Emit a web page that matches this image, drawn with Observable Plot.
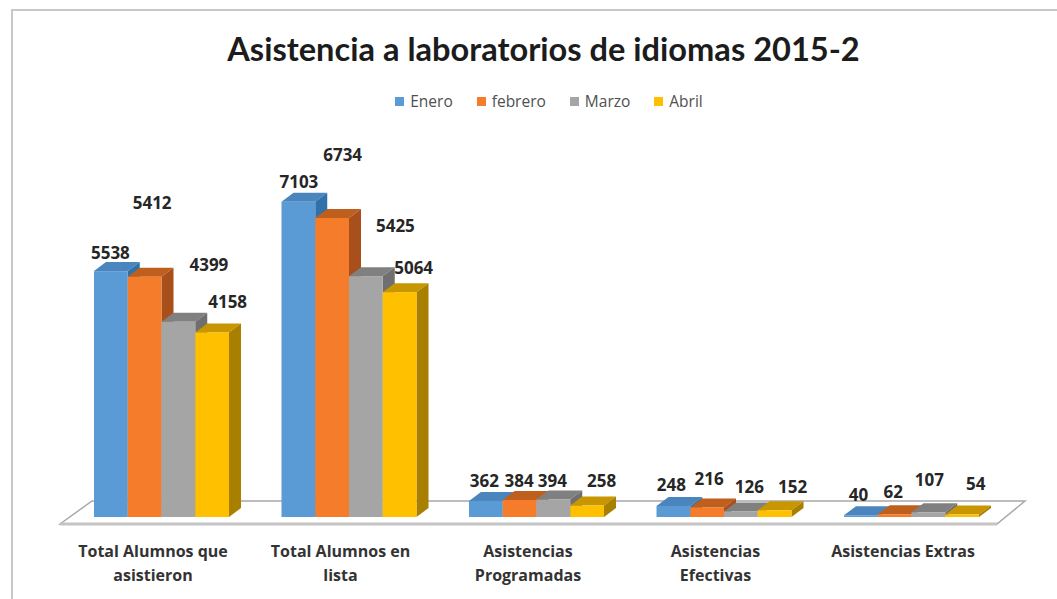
<!DOCTYPE html>
<html>
<head>
<meta charset="utf-8">
<script src="https://cdn.jsdelivr.net/npm/d3@7"></script>
<script src="https://cdn.jsdelivr.net/npm/@observablehq/plot@0.6"></script>
<style>
  html, body { margin: 0; padding: 0; background: #fff; }
  #frame { position: relative; width: 1057px; height: 599px; overflow: hidden; font-family: Lato, sans-serif; }
  #frame::before { content: ""; position: absolute; left: 11px; top: 9px; right: -4px; bottom: -4px; border: 2px solid #c8c8c8; pointer-events: none; }
  #head { height: 125px; box-sizing: border-box; padding-top: 27px; text-align: center; }
  #title { font-size: 32.6px; font-weight: 700; color: #1c1c1c; line-height: 44px; margin-left: 30px; }
  #legend { display: flex; justify-content: center; gap: 24px; font-family: "Open Sans", sans-serif; font-size: 15.5px; color: #505050; margin-top: 20px; margin-left: 41px; line-height: 20px; }
  #legend span { display: inline-flex; align-items: center; }
  #legend i { display: inline-block; width: 9px; height: 9px; margin-right: 6px; }
  svg { display: block; }
</style>
</head>
<body>
<div id="frame">
  <div id="head">
    <div id="title"></div>
    <div id="legend"></div>
  </div>
  <div id="chart"></div>
</div>
<script>
const titleText = "Asistencia a laboratorios de idiomas 2015-2";
const categories = ["Total Alumnos que\nasistieron", "Total Alumnos en\nlista", "Asistencias\nProgramadas", "Asistencias\nEfectivas", "Asistencias Extras"];
const months = ["Enero", "febrero", "Marzo", "Abril"];
const enero = [5538, 7103, 362, 248, 40];
const febrero = [5412, 6734, 384, 216, 62];
const marzo = [4399, 5425, 394, 126, 107];
const abril = [4158, 5064, 258, 152, 54];
const frontColors = ["#5b9bd5", "#f47c2a", "#a5a5a5", "#ffc000"];
const topColors = ["#4a86bd", "#bf5f1e", "#808080", "#c79600"];
const sideColors = ["#2f72a8", "#a84f1c", "#6f6f6f", "#a97f00"];
const labelDx = [[-1, 7, 30, 15], [0, 10, 29, 13.5], [-2, -1, -1.5, 14], [-2.5, 1.5, 8, 17.5], [-3, -2, 0.5, 13]];
const labelDy = [[-18, -74, -57, -30], [-20, -63, -50, -24], [-20, -19, -18.5, -24.5], [-21, -28, -24, -23], [-20, -22, -32, -30.6]];

const depthX = 12, depthY = 9;
const series = [enero, febrero, marzo, abril];
const rows = [];
categories.forEach((category, c) => months.forEach((month, m) => rows.push({
  category, month, value: series[m][c], m, c
})));

d3.select("#title").text(titleText);
const legend = d3.select("#legend").selectAll("span").data(months).join("span");
legend.append("i").style("background", (d, i) => frontColors[i]);
legend.append("b").style("font-weight", 400).text(d => d);

function floor(index, scales, values, dimensions) {
  const y0 = scales.y(0);
  const { marginLeft, width, marginRight } = dimensions;
  const l = marginLeft - 34, r = width - marginRight + 46;
  const g = d3.create("svg:g");
  g.append("polygon")
    .attr("points", [[l, y0 + 7], [l + 32, y0 - 16], [r, y0 - 16], [r - 28, y0 + 7]].join(" "))
    .attr("fill", "#fff")
    .attr("stroke", "#a8a8a8")
    .attr("stroke-width", 1.5);
  g.append("line")
    .attr("x1", l).attr("x2", r - 28).attr("y1", y0 + 7).attr("y2", y0 + 7)
    .attr("stroke", "#c4c4c4").attr("stroke-width", 3);
  return g.node();
}

function extrude(index, scales, values, dimensions, context, next) {
  const g = next(index, scales, values, dimensions, context);
  g.querySelectorAll("rect").forEach(rect => {
    const x = +rect.getAttribute("x"), y = +rect.getAttribute("y");
    const w = +rect.getAttribute("width"), h = +rect.getAttribute("height");
    const m = frontColors.indexOf(rect.getAttribute("fill"));
    const add = (pts, fill) => {
      const p = document.createElementNS("http://www.w3.org/2000/svg", "polygon");
      p.setAttribute("points", pts.join(" "));
      p.setAttribute("fill", fill);
      rect.parentNode.insertBefore(p, rect);
    };
    add([[x, y], [x + depthX, y - depthY], [x + w + depthX, y - depthY], [x + w, y]], topColors[m]);
    add([[x + w, y], [x + w + depthX, y - depthY], [x + w + depthX, y + h - depthY], [x + w, y + h]], sideColors[m]);
  });
  return g;
}

const labelMarks = rows.map(d => Plot.text([d], {
  fx: "category", x: "month", y: "value", text: r => String(r.value),
  dx: labelDx[d.c][d.m], dy: labelDy[d.c][d.m],
  fontFamily: "Open Sans, sans-serif", fontSize: 17, fontWeight: 700, fill: "#262626"
}));

const plot = Plot.plot({
  width: 1057,
  height: 474,
  marginLeft: 67.75,
  marginRight: 51.75,
  marginTop: 5,
  marginBottom: 82,
  style: { background: "transparent", fontFamily: "Lato, sans-serif", overflow: "visible" },
  fx: { domain: categories, paddingInner: 0.28, paddingOuter: 0.14, round: false, label: null, axis: null },
  x: { domain: months, padding: 0, round: false, axis: null, label: null },
  y: { domain: [0, 387 / 0.0444], axis: null, label: null },
  color: { domain: months, range: frontColors },
  marks: [
    Plot.frame({ facet: "super", render: floor }),
    Plot.barY(rows, { fx: "category", x: "month", y: "value", fill: d => frontColors[d.m], render: extrude, inset: 0 }),
    ...labelMarks,
    Plot.axisFx({
      domain: categories, anchor: "bottom", tickSize: 0, tickPadding: 22, label: null,
      fontFamily: "Open Sans, sans-serif", fontSize: 16, fontWeight: 700, fill: "#333", lineHeight: 1.5, dx: -9, textOverflow: null, lineWidth: Infinity
    })
  ]
});
document.getElementById("chart").appendChild(plot);
</script>
</body>
</html>
